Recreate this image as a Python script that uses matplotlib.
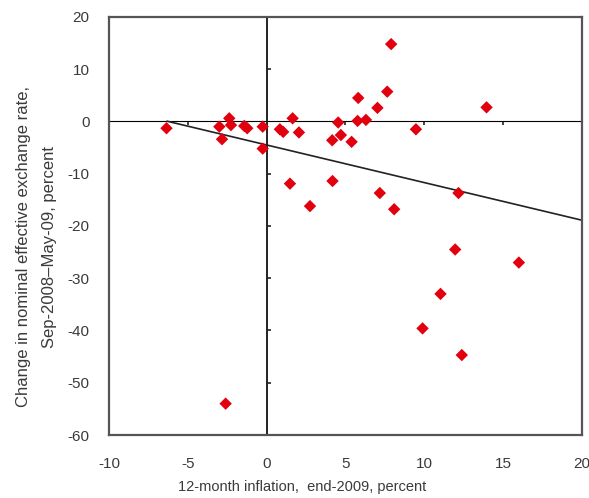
import matplotlib
matplotlib.use("Agg")
import matplotlib.pyplot as plt
import numpy as np

# inflation (x) vs. change in NEER (y), one point per country
inflation = [-6.35, -3.0, -2.83, -2.37, -2.26, -1.42, -1.23, -0.25, -0.25,
             0.84, 1.05, 1.65, 2.05, 1.48, 2.75, 4.54, 4.16, 4.71, 4.18,
             5.39, 5.81, 5.77, 6.3, 7.03, 7.65, 7.9, 9.47, 13.95, 7.18,
             8.09, 12.17, 11.96, 16.0, 11.03, 9.89, 12.38, -2.6]
neer_change = [-1.3, -1.0, -3.4, 0.6, -0.7, -0.86, -1.3, -1.0, -5.2,
               -1.5, -2.0, 0.6, -2.1, -11.9, -16.2, -0.2, -3.6, -2.6, -11.4,
               -3.9, 4.5, 0.1, 0.3, 2.6, 5.7, 14.8, -1.5, 2.7, -13.7,
               -16.8, -13.7, -24.5, -27.0, -33.0, -39.6, -44.7, -54.0]

# trend line
trend_x = [-6.3, 20]
trend_intercept = -4.5
trend_slope = -0.72

x_ticks = [-10, -5, 0, 5, 10, 15, 20]
y_ticks = [-60, -50, -40, -30, -20, -10, 0, 10, 20]

plt.rcParams["font.family"] = ["Liberation Sans", "DejaVu Sans"]
plt.rcParams["axes.unicode_minus"] = False

fig = plt.figure(figsize=(5.89, 4.98), dpi=100)
ax = fig.add_axes([0.185, 0.1265, 0.803, 0.8395])

ax.set_xlim(-10, 20)
ax.set_ylim(-60, 20)

frame_col = "#555555"
for s in ax.spines.values():
    s.set_color(frame_col)
    s.set_linewidth(1.6)

ax.set_xticks(x_ticks)
ax.set_yticks(y_ticks)
ax.tick_params(length=0, labelsize=11, labelcolor="#3a3a3a")
ax.tick_params(axis="x", pad=16)
ax.tick_params(axis="y", pad=14)

# zero lines with small inward ticks, Excel style
sec_x = ax.secondary_xaxis(0.75)
sec_x.set_xticks([t for t in x_ticks if t != 0])
sec_x.tick_params(direction="in", length=3, width=1.2, color="#222222", labelbottom=False, labeltop=False)
sec_x.spines["bottom"].set_color("#222222")
sec_x.spines["bottom"].set_linewidth(1.4)
sec_x.set_xticklabels([])

sec_y = ax.secondary_yaxis(1 / 3)
sec_y.set_yticks([t for t in y_ticks if t != 0])
sec_y.tick_params(direction="in", length=3, width=1.2, color="#222222", labelleft=False, labelright=False)
sec_y.spines["left"].set_color("#222222")
sec_y.spines["left"].set_linewidth(1.4)
sec_y.set_yticklabels([])

tx = np.array(trend_x)
ax.plot(tx, trend_intercept + trend_slope * tx, color="#222222", lw=1.2, zorder=2)

ax.scatter(inflation, neer_change, marker="D", s=40, color="#e2000f",
           edgecolors="none", zorder=3)

ax.set_xlabel("12-month inflation,  end-2009, percent", fontsize=10.5,
              color="#3a3a3a")
ax.xaxis.set_label_coords(0.408, -0.108)
ax.set_ylabel("Change in nominal effective exchange rate,\nSep-2008\u2013May-09, percent",
              fontsize=12, color="#3a3a3a", linespacing=1.9)
ax.yaxis.set_label_coords(-0.11, 0.45)

fig.savefig("out.png", dpi=100)
